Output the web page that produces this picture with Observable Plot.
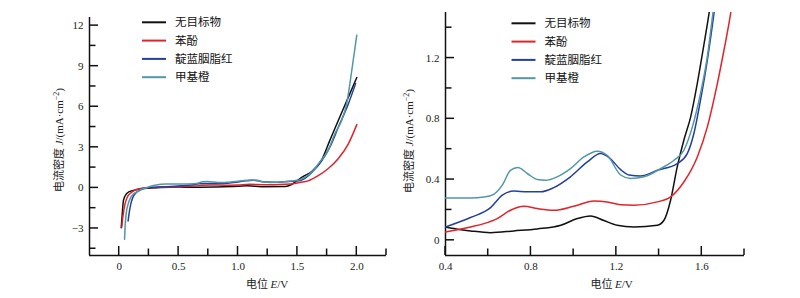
<!DOCTYPE html>
<html>
<head>
<meta charset="utf-8">
<script src="https://cdn.jsdelivr.net/npm/d3@7"></script>
<script src="https://cdn.jsdelivr.net/npm/@observablehq/plot@0.6"></script>
<style>
  html, body { margin: 0; padding: 0; background: #fff; }
  #wrap { display: flex; width: 800px; height: 298px; }
</style>
</head>
<body>
<div id="wrap"></div>
<script>
// ---------- data ----------
const seriesNames = ["无目标物", "苯酚", "靛蓝胭脂红", "甲基橙"];
const seriesColors = ["#111111", "#e3232a", "#23409c", "#5297a6"];

// left panel: full scan, [E (V), J (mA/cm2)]
const leftBlack = [[0.017,-2.95],[0.025,-2.0],[0.036,-0.91],[0.06,-0.45],[0.08,-0.3],[0.15,-0.12],[0.25,-0.02],[0.35,0.03],[0.5,0.06],[0.6,0.05],[0.8,0.07],[1.0,0.12],[1.08,0.16],[1.2,0.09],[1.4,0.1],[1.45,0.25],[1.5,0.55],[1.55,0.85],[1.62,1.2],[1.703,2.05],[1.774,3.53],[1.845,5.0],[1.93,6.73],[2.0,8.16]];
const leftRed = [[0.022,-2.88],[0.03,-2.2],[0.05,-1.15],[0.07,-0.65],[0.093,-0.41],[0.13,-0.18],[0.178,-0.05],[0.25,0.02],[0.4,0.055],[0.52,0.09],[0.64,0.14],[0.7,0.2],[0.77,0.22],[0.9,0.2],[1.0,0.22],[1.1,0.26],[1.2,0.24],[1.3,0.23],[1.4,0.26],[1.477,0.33],[1.52,0.4],[1.59,0.52],[1.675,0.9],[1.76,1.43],[1.845,2.17],[1.93,3.28],[2.0,4.68]];
const leftBlue = [[0.075,-2.45],[0.085,-1.8],[0.099,-1.15],[0.115,-0.7],[0.136,-0.41],[0.17,-0.18],[0.206,-0.05],[0.3,0.05],[0.4,0.088],[0.52,0.15],[0.61,0.215],[0.67,0.3],[0.72,0.325],[0.85,0.32],[0.91,0.35],[0.985,0.42],[1.064,0.52],[1.126,0.57],[1.19,0.48],[1.25,0.43],[1.31,0.42],[1.39,0.46],[1.485,0.5],[1.53,0.57],[1.563,0.7],[1.594,0.92],[1.626,1.19],[1.66,1.5],[1.7,1.95],[1.774,3.03],[1.845,4.5],[1.93,6.24],[1.99,7.71]];
const leftCyan = [[0.045,-3.8],[0.05,-2.8],[0.059,-1.89],[0.075,-1.2],[0.093,-0.78],[0.12,-0.45],[0.15,-0.3],[0.19,-0.1],[0.235,0.03],[0.3,0.2],[0.4,0.279],[0.52,0.279],[0.63,0.3],[0.67,0.36],[0.7,0.46],[0.74,0.48],[0.78,0.44],[0.83,0.4],[0.87,0.395],[0.92,0.42],[0.985,0.47],[1.05,0.55],[1.11,0.587],[1.16,0.56],[1.22,0.43],[1.27,0.407],[1.33,0.418],[1.41,0.47],[1.47,0.527],[1.516,0.593],[1.556,0.75],[1.594,0.97],[1.626,1.21],[1.652,1.49],[1.7,2.05],[1.76,2.79],[1.816,4.02],[1.873,5.0],[1.915,6.24],[1.958,8.7],[2.0,11.29]];

// right panel: zoomed region
const rightBlack = [[0.4,0.088],[0.45,0.075],[0.517,0.062],[0.611,0.05],[0.72,0.062],[0.83,0.075],[0.94,0.099],[1.017,0.143],[1.079,0.16],[1.142,0.13],[1.204,0.099],[1.282,0.088],[1.392,0.099],[1.423,0.132],[1.454,0.264],[1.485,0.483],[1.516,0.659],[1.548,0.813],[1.579,1.033],[1.603,1.23],[1.634,1.494],[1.66,1.75]];
const rightRed = [[0.4,0.055],[0.517,0.088],[0.58,0.11],[0.642,0.143],[0.704,0.198],[0.767,0.224],[0.83,0.209],[0.907,0.198],[1.0,0.224],[1.095,0.259],[1.157,0.253],[1.22,0.234],[1.282,0.231],[1.392,0.253],[1.454,0.286],[1.516,0.384],[1.579,0.549],[1.626,0.747],[1.673,1.033],[1.704,1.253],[1.735,1.494],[1.76,1.75]];
const rightBlue = [[0.4,0.088],[0.517,0.15],[0.611,0.215],[0.666,0.297],[0.72,0.325],[0.783,0.319],[0.845,0.319],[0.907,0.347],[0.985,0.418],[1.064,0.516],[1.126,0.571],[1.17,0.54],[1.22,0.465],[1.26,0.43],[1.313,0.424],[1.392,0.461],[1.485,0.505],[1.532,0.571],[1.563,0.703],[1.594,0.923],[1.626,1.187],[1.657,1.494],[1.68,1.75]];
const rightCyan = [[0.4,0.279],[0.517,0.279],[0.58,0.285],[0.626,0.303],[0.666,0.363],[0.704,0.461],[0.739,0.479],[0.783,0.44],[0.83,0.40],[0.868,0.395],[0.923,0.418],[0.985,0.472],[1.048,0.549],[1.11,0.587],[1.157,0.56],[1.22,0.43],[1.267,0.407],[1.329,0.418],[1.407,0.472],[1.47,0.527],[1.516,0.593],[1.556,0.747],[1.594,0.967],[1.626,1.209],[1.652,1.494],[1.675,1.75]];

// ticks
const leftXMajor = [0, 0.5, 1.0, 1.5, 2.0];
const leftXMinor = [0.25, 0.75, 1.25, 1.75, 2.25];
const leftYMajor = [-3, 0, 3, 6, 9, 12];
const leftYMinor = [-4.5, -1.5, 1.5, 4.5, 7.5, 10.5];
const rightXMajor = [0.4, 0.8, 1.2, 1.6];
const rightXMinor = [0.6, 1.0, 1.4, 1.8];
const rightYMajor = [0, 0.4, 0.8, 1.2];
const rightYMinor = [0.2, 0.6, 1.0, 1.4];

// ---------- drawing ----------
const fmtLeftX = d => d === 0 ? "0" : d3.format(".1f")(d);
const fmtLeftY = d => d < 0 ? "−" + Math.abs(d) : String(d);
const fmtRight = d => d === 0 ? "0" : d3.format(".1f")(d);

const W = 400, H = 298;

function axes(xMajor, yMajor, fx, fy, xMin, yMin) {
  return [
    Plot.axisX({ticks: xMajor, tickSize: 0, tickPadding: 6.5, tickFormat: fx, label: null}),
    Plot.axisY({ticks: yMajor, tickSize: 0, tickPadding: 6, tickFormat: fy, label: null}),
    Plot.ruleX([xMin], {stroke: "#111", strokeWidth: 1.5}),
    Plot.ruleY([yMin], {stroke: "#111", strokeWidth: 1.5})
  ];
}

function lines(sets) {
  return sets.map((s, i) => Plot.line(s, {
    x: d => d[0], y: d => d[1], stroke: seriesColors[i], strokeWidth: 1.5,
    curve: "monotone-x", clip: true
  }));
}

const baseStyle = {fontFamily: "'Liberation Serif', 'Times New Roman', serif", fontSize: "11px", color: "#222"};

const mL = {left: 89, right: 14, top: 17, bottom: 43};
const leftPlot = Plot.plot({
  width: W, height: H,
  marginLeft: mL.left, marginRight: mL.right, marginTop: mL.top, marginBottom: mL.bottom,
  style: baseStyle,
  x: {domain: [-0.25, 2.25]},
  y: {domain: [-5, 12.6]},
  marks: [
    ...axes(leftXMajor, leftYMajor, fmtLeftX, fmtLeftY, -0.25, -5),
    ...lines([leftBlack, leftRed, leftBlue, leftCyan])
  ]
});

const mR = {left: 45, right: 56, top: 12, bottom: 43};
const rightPlot = Plot.plot({
  width: W, height: H,
  marginLeft: mR.left, marginRight: mR.right, marginTop: mR.top, marginBottom: mR.bottom,
  style: baseStyle,
  x: {domain: [0.4, 1.8]},
  y: {domain: [-0.1, 1.5]},
  marks: [
    ...axes(rightXMajor, rightYMajor, fmtRight, fmtRight, 0.4, -0.1),
    ...lines([rightBlack, rightRed, rightBlue, rightCyan])
  ]
});

const cjk = "'Noto Sans CJK SC', sans-serif";
const serif = "'Liberation Serif', 'Times New Roman', serif";

function decorate(plot, m, opts) {
  const svg = d3.select(plot);
  const xs = plot.scale("x"), ys = plot.scale("y");
  const x0 = m.left, y0 = H - m.bottom;
  // inward ticks, placed with the plot's own scales
  const tg = svg.append("g").attr("stroke", "#111").attr("stroke-width", 1.5);
  const tickX = (v, len) => tg.append("line").attr("x1", xs.apply(v)).attr("x2", xs.apply(v)).attr("y1", y0).attr("y2", y0 - len);
  const tickY = (v, len) => tg.append("line").attr("y1", ys.apply(v)).attr("y2", ys.apply(v)).attr("x1", x0).attr("x2", x0 + len);
  opts.xMinor.forEach(v => tickX(v, 6.5));
  opts.xMajor.forEach(v => tickX(v, 9));
  opts.yMinor.forEach(v => tickY(v, 6.5));
  opts.yMajor.forEach(v => tickY(v, 9));
  // y label
  const yl = svg.append("text")
    .attr("transform", `translate(${opts.yLabelX},${opts.yLabelY}) rotate(-90)`)
    .attr("text-anchor", "middle").attr("dy", "0.35em")
    .attr("font-size", 11).attr("fill", "#222");
  yl.append("tspan").attr("font-family", cjk).text("电流密度 ");
  yl.append("tspan").attr("font-family", serif).attr("font-style", "italic").text("J");
  yl.append("tspan").attr("font-family", serif).text("/(mA·cm");
  yl.append("tspan").attr("font-family", serif).attr("font-size", 8).attr("dy", -4).text("−2");
  yl.append("tspan").attr("font-family", serif).attr("dy", 4).text(")");
  // x label
  const xl = svg.append("text")
    .attr("x", xs.apply(opts.xLabelAt)).attr("y", 288)
    .attr("text-anchor", "middle").attr("font-size", 11).attr("fill", "#222");
  xl.append("tspan").attr("font-family", cjk).text("电位 ");
  xl.append("tspan").attr("font-family", serif).attr("font-style", "italic").text("E");
  xl.append("tspan").attr("font-family", serif).text("/V");
  // legend
  const g = svg.append("g").attr("text-anchor", "start");
  seriesNames.forEach((name, i) => {
    const y = opts.legY + i * 18.3;
    g.append("line").attr("x1", opts.legX).attr("x2", opts.legX + 24)
      .attr("y1", y).attr("y2", y).attr("stroke", seriesColors[i]).attr("stroke-width", 2);
    g.append("text").attr("x", opts.legX + 33).attr("y", y).attr("dy", "0.36em")
      .attr("text-anchor", "start")
      .attr("font-family", cjk).attr("font-size", 11.5).attr("fill", "#111").text(name);
  });
}

decorate(leftPlot, mL, {xMajor: leftXMajor, xMinor: leftXMinor, yMajor: leftYMajor, yMinor: leftYMinor,
  yLabelX: 59, yLabelY: 140, xLabelAt: 1.25, legX: 142, legY: 22.3});
decorate(rightPlot, mR, {xMajor: rightXMajor, xMinor: rightXMinor, yMajor: rightYMajor, yMinor: rightYMinor,
  yLabelX: 9.5, yLabelY: 141, xLabelAt: 1.18, legX: 111.5, legY: 23.3});

document.getElementById("wrap").append(leftPlot, rightPlot);
</script>
</body>
</html>
